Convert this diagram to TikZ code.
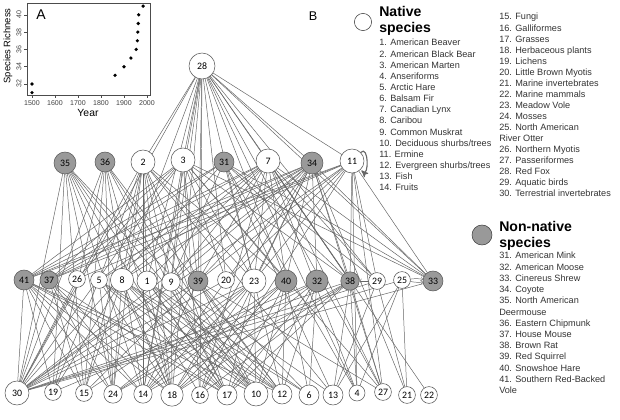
\documentclass[tikz,border=0pt]{standalone}
\usepackage{fontspec}
\setmainfont{Liberation Sans}
\newfontfamily\nodefont{Carlito}
\usepackage{tkz-graph}
\usepackage{tkz-berge}
\usetikzlibrary{backgrounds}

\begin{document}
\begin{tikzpicture}[x=0.025cm,y=-0.025cm]
    \useasboundingbox (0,0) rectangle (620,420);
    \GraphInit[vstyle=Normal]
    \tikzset{VertexStyle/.style = {%
        shape= circle,
        draw= black!65,
        fill= white,
        inner sep= 0pt,
        font= \nodefont\fontsize{7}{8}\selectfont,
        minimum size = 0.5cm}}
    \tikzset{EdgeStyle/.style = {draw= black!60, line width= 0.35pt}}
    \tikzset{PlotText/.style = {font= \fontsize{5}{6}\selectfont, text= black!75, inner sep= 1pt}}
    \tikzset{KeyText/.style = {anchor= base west, inner sep= 0pt, font= \fontsize{6.5}{7}\selectfont, text= black!80}}
    \tikzset{KeyHead/.style = {anchor= base west, inner sep= 0pt, font= \bfseries\fontsize{10}{12}\selectfont}}
    % panel A
    \draw[black!70, line width=0.4pt] (27,3) rectangle (150,95);
    \foreach \yr in {1500,1600,...,2000}{
      \draw[black!70] ({32+(\yr-1500)*0.23},95) -- ({32+(\yr-1500)*0.23},98);
      \node[PlotText] (xt\yr) at ({32+(\yr-1500)*0.23},103) {\yr};}
    \foreach \sr in {32,34,...,40}{
      \draw[black!70] (27,{84-(\sr-32)*8.65}) -- (24,{84-(\sr-32)*8.65});
      \node[PlotText, rotate=90] (yt\sr) at (19,{84-(\sr-32)*8.65}) {\sr};}
    \foreach \yr/\sr in {1500/31,1500/32,1861/33,1900/34,1930/35,1953/36,1958/37,1960/38,1962/39,1964/40,1983/41}
      \fill ({32+(\yr-1500)*0.23},{84-(\sr-32)*8.65}) circle (1.3pt);
    \node[font=\fontsize{6.7}{8}\selectfont, rotate=90] (ylab) at (8,46) {Species Richness};
    \node[font=\fontsize{7.4}{9}\selectfont] (xlab) at (88,113) {Year};
    \node[font=\fontsize{10}{12}\selectfont] (pA) at (41,15) {A};
    \node[font=\fontsize{9}{11}\selectfont] (pB) at (313,16) {B};
    % key
    \node[circle, draw=black!75, fill=white, minimum size=0.43cm, inner sep=0pt] (natkey) at (363,22) {};
    \node[KeyHead] (nathead) at (379,17) {Native};
    \node[KeyHead] (nathead2) at (379,33) {species};
    \foreach \t [count=\i] in {1. American Beaver, 2. American Black Bear, 3. American Marten,
        4. Anseriforms, 5. Arctic Hare, 6. Balsam Fir, 7. Canadian Lynx, 8. Caribou,
        9. Common Muskrat, {10. Deciduous shurbs/trees}, 11. Ermine,
        {12. Evergreen shurbs/trees}, 13. Fish, 14. Fruits}
      \node[KeyText] (natA\i) at (379,{46+11.13*(\i-1)}) {\t};
    \foreach \t [count=\i] in {15. Fungi, 16. Galliformes, 17. Grasses, 18. Herbaceous plants,
        19. Lichens, 20. Little Brown Myotis, 21. Marine invertebrates, 22. Marine mammals,
        23. Meadow Vole, 24. Mosses, 25. North American, River Otter, 26. Northern Myotis,
        27. Passeriformes, 28. Red Fox, 29. Aquatic birds, 30. Terrestrial invertebrates}
      \node[KeyText] (natB\i) at (499,{20+11.06*(\i-1)}) {\t};
    \node[circle, draw=black!75, fill=black!40, minimum size=0.5cm, inner sep=0pt] (alienkey) at (482,235) {};
    \node[KeyHead] (alienhead) at (499,231) {Non-native};
    \node[KeyHead] (alienhead2) at (499,247) {species};
    \foreach \t [count=\i] in {31. American Mink, 32. American Moose, 33. Cinereus Shrew,
        34. Coyote, 35. North American, Deermouse, 36. Eastern Chipmunk, 37. House Mouse,
        38. Brown Rat, 39. Red Squirrel, 40. Snowshoe Hare, 41. Southern Red-Backed, Vole}
      \node[KeyText] (alien\i) at (499,{259+11.2*(\i-1)}) {\t};
    % panel B: food web
    \foreach \n/\x/\y/\d/\c in {28/202/66/0.65/white,
        35/65/163/0.55/black!40, 36/105/162/0.5/black!40, 2/143/162/0.6/white,
        3/183/160/0.6/white, 31/224/162/0.5/black!40, 7/268/161/0.6/white,
        34/312/163/0.55/black!40, 11/352/161/0.6/white,
        41/24/280/0.5/black!40, 37/49/280/0.45/black!40, 26/77/279/0.42/white,
        5/99/280/0.42/white, 8/122/280/0.58/white, 1/147/281/0.5/white,
        9/171/282/0.46/white, 39/198/281/0.5/black!40, 20/226/280/0.42/white,
        23/254/281/0.6/white, 40/286/281/0.55/black!40, 32/317/281/0.55/black!40,
        38/350/281/0.46/black!40, 29/377/281/0.42/white, 25/402/280/0.42/white,
        33/433/281/0.5/black!40,
        30/17/393/0.6/white, 19/53/392/0.42/white, 15/84/393/0.42/white,
        24/113/394/0.46/white, 14/143/394/0.46/white, 18/172/395/0.56/white,
        16/200/395/0.42/white, 17/227/395/0.5/white, 10/256/394/0.6/white,
        12/282/394/0.5/white, 6/309/395/0.5/white, 13/333/395/0.5/white,
        4/357/393/0.4/white, 27/383/392/0.42/white, 21/407/395/0.42/white,
        22/429/395/0.42/white}
      {\tikzset{VertexStyle/.append style={minimum size=\d cm,fill=\c}}%
       \Vertex[x=\x,y=\y,L=\n]{N\n}}
    \begin{pgfonlayer}{background}
    \foreach \b in {2,3,7,34,11,8,1,9,39,20,23,40,38,29,33,16,27,4,14,18,30} {\Edge(N28)(N\b)}
    \foreach \b in {30,19,15,24,14,18,16,17,10,12} {\Edge(N35)(N\b)}
    \foreach \b in {30,15,24,14,18,17,10,12,19} {\Edge(N36)(N\b)}
    \foreach \b in {5,8,1,9,39,40,23,13,14,18,17,30,15,24} {\Edge(N2)(N\b)}
    \foreach \b in {41,37,26,9,39,20,23,40,38,33,16,27,14,30} {\Edge(N3)(N\b)}
    \foreach \b in {41,9,23,38,33,29,13,4,30,37} {\Edge(N31)(N\b)}
    \foreach \b in {40,5,39,41,23,8,9,16,27,4,37,38,33,1,29,22} {\Edge(N7)(N\b)}
    \foreach \b in {40,5,8,32,23,41,39,9,37,38,33,16,27,14,18,30,21} {\Edge(N34)(N\b)}
    \foreach \b in {41,37,23,33,38,39,29,16,27,30,20,26,4} {\Edge(N11)(N\b)}
    \foreach \b in {30,19,15,24,14,18,17,10,12} {\Edge(N41)(N\b)}
    \foreach \b in {30,15,14,18,17,24} {\Edge(N37)(N\b)}
    \foreach \b in {18,17,10,12,19,24} {\Edge(N5)(N\b)}
    \foreach \b in {19,15,24,18,17,10,12,6} {\Edge(N8)(N\b)}
    \foreach \b in {10,12,18,17,6} {\Edge(N1)(N\b)}
    \foreach \b in {18,17,13,30,10} {\Edge(N9)(N\b)}
    \foreach \b in {15,14,30,12,6,10,27} {\Edge(N39)(N\b)}
    \foreach \b in {30,17,18,14,15,24,10,12} {\Edge(N23)(N\b)}
    \foreach \b in {10,12,6,17,18,24,14} {\Edge(N40)(N\b)}
    \foreach \b in {10,12,6,18,17,24,19} {\Edge(N32)(N\b)}
    \foreach \b in {30,14,18,17,13,27,4,16} {\Edge(N38)(N\b)}
    \foreach \b in {13,21,30} {\Edge(N29)(N\b)}
    \foreach \b in {13,21,30,4} {\Edge(N25)(N\b)}
    \Edge(N26)(N30)
    \Edge(N20)(N30)
    \Edge(N33)(N30)
    \end{pgfonlayer}
    \Edge[style={->}](N29)(N38)
    \Edge[style={->,bend left=8}](N25)(N33)
    \Edge[style={->,bend right=8}](N25)(N33)
    \Loop[dist=0.3cm,dir=EA](N11)
  \end{tikzpicture}
\end{document}
